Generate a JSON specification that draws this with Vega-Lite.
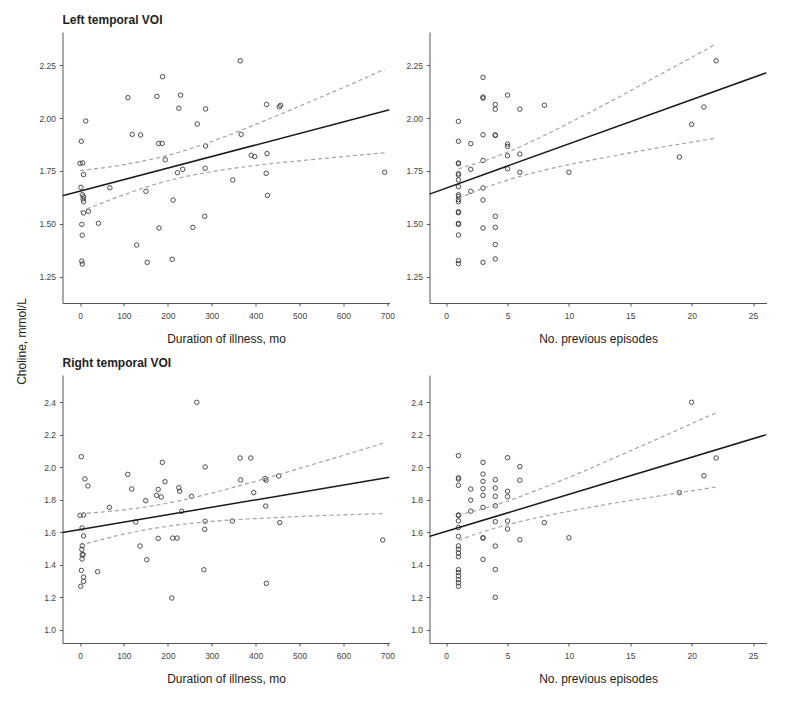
{
  "$schema": "https://vega.github.io/schema/vega-lite/v6.json",
  "background": "white",
  "padding": {"left": 14.5, "top": 14, "right": 4, "bottom": 4},
  "autosize": {"type": "pad"},
  "columns": 2,
  "bounds": "flush",
  "spacing": {"row": 72, "column": 40},
  "config": {
    "view": {"stroke": null},
    "group": {"stroke": "#9a9a9a", "strokeWidth": 1},
    "axis": {"domainColor": "#555", "tickColor": "#555", "labelColor": "#444", "titleColor": "#222", "labelFont": "Liberation Sans", "titleFont": "Liberation Sans", "labelFontSize": 8.5, "titleFontSize": 12, "titleFontWeight": "normal", "tickSize": 3, "labelPadding": 4, "grid": false, "domainWidth": 1, "tickWidth": 1},
    "axisX": {"titlePadding": 14, "labelPadding": 5},
    "title": {"font": "Liberation Sans", "fontSize": 12, "fontWeight": "bold", "color": "#222", "anchor": "start", "frame": "group", "offset": 5, "baseline": "alphabetic"}
  },
  "datasets": {
    "tl": [
      {"x":365,"y":2.27},{"x":188,"y":2.195},{"x":109,"y":2.096},{"x":175,"y":2.102},{"x":229,"y":2.108},{"x":225,"y":2.046},{"x":286,"y":2.043},{"x":425,"y":2.064},{"x":454,"y":2.053},{"x":457,"y":2.06},
      {"x":13,"y":1.986},{"x":267,"y":1.972},{"x":3,"y":1.89},{"x":119,"y":1.923},{"x":138,"y":1.92},{"x":367,"y":1.923},{"x":179,"y":1.88},{"x":187,"y":1.88},{"x":286,"y":1.868},{"x":194,"y":1.803},
      {"x":390,"y":1.824},{"x":398,"y":1.818},{"x":426,"y":1.832},{"x":0,"y":1.786},{"x":6,"y":1.788},{"x":8,"y":1.733},{"x":222,"y":1.742},{"x":234,"y":1.758},{"x":285,"y":1.763},{"x":424,"y":1.739},
      {"x":694,"y":1.744},{"x":348,"y":1.708},{"x":2,"y":1.673},{"x":68,"y":1.671},{"x":5,"y":1.638},{"x":8,"y":1.629},{"x":7,"y":1.618},{"x":8,"y":1.605},{"x":150,"y":1.654},{"x":427,"y":1.635},
      {"x":212,"y":1.613},{"x":8,"y":1.552},{"x":19,"y":1.56},{"x":284,"y":1.536},{"x":4,"y":1.498},{"x":42,"y":1.503},{"x":180,"y":1.481},{"x":257,"y":1.484},{"x":5,"y":1.447},{"x":129,"y":1.401},
      {"x":4,"y":1.325},{"x":5,"y":1.311},{"x":153,"y":1.319},{"x":210,"y":1.333}
    ],
    "tr": [
      {"x":3,"y":2.192},{"x":3,"y":2.099},{"x":3,"y":2.094},{"x":5,"y":2.108},{"x":4,"y":2.064},{"x":4,"y":2.042},{"x":6,"y":2.042},{"x":8,"y":2.06},{"x":22,"y":2.27},{"x":21,"y":2.052},
      {"x":20,"y":1.97},{"x":1,"y":1.984},{"x":3,"y":1.921},{"x":4,"y":1.92},{"x":4,"y":1.918},{"x":1,"y":1.89},{"x":2,"y":1.879},{"x":5,"y":1.877},{"x":5,"y":1.866},{"x":5,"y":1.822},
      {"x":6,"y":1.83},{"x":3,"y":1.8},{"x":19,"y":1.816},{"x":1,"y":1.788},{"x":1,"y":1.784},{"x":1,"y":1.737},{"x":1,"y":1.731},{"x":2,"y":1.758},{"x":5,"y":1.761},{"x":6,"y":1.744},
      {"x":10,"y":1.744},{"x":1,"y":1.708},{"x":1,"y":1.676},{"x":3,"y":1.67},{"x":1,"y":1.638},{"x":1,"y":1.63},{"x":1,"y":1.615},{"x":1,"y":1.605},{"x":2,"y":1.654},{"x":3,"y":1.613},
      {"x":1,"y":1.558},{"x":1,"y":1.553},{"x":4,"y":1.536},{"x":1,"y":1.503},{"x":1,"y":1.498},{"x":3,"y":1.481},{"x":4,"y":1.484},{"x":1,"y":1.448},{"x":4,"y":1.403},{"x":1,"y":1.327},
      {"x":1,"y":1.313},{"x":3,"y":1.319},{"x":4,"y":1.335}
    ],
    "bl": [
      {"x":266,"y":2.4},{"x":3,"y":2.065},{"x":187.5,"y":2.03},{"x":364.5,"y":2.057},{"x":389,"y":2.057},{"x":285,"y":2.002},{"x":108.6,"y":1.956},{"x":11,"y":1.928},{"x":18,"y":1.885},{"x":193.6,"y":1.911},
      {"x":366,"y":1.922},{"x":117.7,"y":1.866},{"x":178,"y":1.864},{"x":225,"y":1.874},{"x":227,"y":1.852},{"x":174.6,"y":1.827},{"x":185,"y":1.817},{"x":254,"y":1.821},{"x":421,"y":1.93},{"x":424,"y":1.92},
      {"x":452.5,"y":1.946},{"x":395.6,"y":1.844},{"x":149.6,"y":1.794},{"x":66.8,"y":1.753},{"x":423,"y":1.761},{"x":231.6,"y":1.729},{"x":0,"y":1.704},{"x":8,"y":1.706},{"x":127,"y":1.663},{"x":285,"y":1.667},
      {"x":347,"y":1.669},{"x":455,"y":1.659},{"x":4.6,"y":1.626},{"x":284,"y":1.618},{"x":8,"y":1.577},{"x":178,"y":1.562},{"x":211,"y":1.564},{"x":221,"y":1.564},{"x":5,"y":1.517},{"x":4,"y":1.494},
      {"x":5,"y":1.462},{"x":7,"y":1.462},{"x":4.5,"y":1.435},{"x":136.7,"y":1.515},{"x":152,"y":1.431},{"x":3,"y":1.365},{"x":40,"y":1.357},{"x":282,"y":1.369},{"x":8,"y":1.324},{"x":8,"y":1.297},
      {"x":1.5,"y":1.267},{"x":424.5,"y":1.285},{"x":209,"y":1.195},{"x":689.5,"y":1.552}
    ],
    "br": [
      {"x":1,"y":2.072},{"x":1,"y":1.935},{"x":1,"y":1.927},{"x":1,"y":1.889},{"x":1,"y":1.706},{"x":1,"y":1.704},{"x":1,"y":1.67},{"x":1,"y":1.629},{"x":1,"y":1.575},{"x":1,"y":1.516},
      {"x":1,"y":1.495},{"x":1,"y":1.472},{"x":1,"y":1.449},{"x":1,"y":1.37},{"x":1,"y":1.352},{"x":1,"y":1.331},{"x":1,"y":1.308},{"x":1,"y":1.289},{"x":1,"y":1.267},
      {"x":2,"y":1.866},{"x":2,"y":1.797},{"x":2,"y":1.73},
      {"x":3,"y":2.03},{"x":3,"y":1.958},{"x":3,"y":1.913},{"x":3,"y":1.868},{"x":3,"y":1.827},{"x":3,"y":1.753},{"x":3,"y":1.566},{"x":3,"y":1.564},{"x":3,"y":1.433},
      {"x":4,"y":1.924},{"x":4,"y":1.872},{"x":4,"y":1.821},{"x":4,"y":1.763},{"x":4,"y":1.665},{"x":4,"y":1.515},{"x":4,"y":1.371},{"x":4,"y":1.199},
      {"x":5,"y":2.059},{"x":5,"y":1.852},{"x":5,"y":1.819},{"x":5,"y":1.669},{"x":5,"y":1.62},
      {"x":6,"y":2.004},{"x":6,"y":1.92},{"x":6,"y":1.554},
      {"x":8,"y":1.659},{"x":10,"y":1.566},{"x":19,"y":1.844},{"x":20,"y":2.4},{"x":21,"y":1.948},{"x":22,"y":2.057}
    ],
    "lines": [
      {"p":"tl","k":"fit","x":-40,"y":1.633},{"p":"tl","k":"fit","x":705,"y":2.039},
      {"p":"tl","k":"up","x":0,"y":1.752},{"p":"tl","k":"up","x":100,"y":1.78},{"p":"tl","k":"up","x":200,"y":1.824},{"p":"tl","k":"up","x":300,"y":1.889},{"p":"tl","k":"up","x":400,"y":1.97},{"p":"tl","k":"up","x":500,"y":2.056},{"p":"tl","k":"up","x":600,"y":2.144},{"p":"tl","k":"up","x":694,"y":2.23},
      {"p":"tl","k":"lo","x":0,"y":1.558},{"p":"tl","k":"lo","x":100,"y":1.638},{"p":"tl","k":"lo","x":200,"y":1.704},{"p":"tl","k":"lo","x":300,"y":1.747},{"p":"tl","k":"lo","x":400,"y":1.776},{"p":"tl","k":"lo","x":500,"y":1.798},{"p":"tl","k":"lo","x":600,"y":1.818},{"p":"tl","k":"lo","x":694,"y":1.836},
      {"p":"tr","k":"fit","x":-1.36,"y":1.641},{"p":"tr","k":"fit","x":26.1,"y":2.214},
      {"p":"tr","k":"up","x":1,"y":1.76},{"p":"tr","k":"up","x":3,"y":1.796},{"p":"tr","k":"up","x":5,"y":1.839},{"p":"tr","k":"up","x":8,"y":1.918},{"p":"tr","k":"up","x":11,"y":2.006},{"p":"tr","k":"up","x":14,"y":2.097},{"p":"tr","k":"up","x":17,"y":2.192},{"p":"tr","k":"up","x":20,"y":2.286},{"p":"tr","k":"up","x":22,"y":2.35},
      {"p":"tr","k":"lo","x":1,"y":1.62},{"p":"tr","k":"lo","x":3,"y":1.668},{"p":"tr","k":"lo","x":5,"y":1.707},{"p":"tr","k":"lo","x":8,"y":1.754},{"p":"tr","k":"lo","x":11,"y":1.792},{"p":"tr","k":"lo","x":14,"y":1.825},{"p":"tr","k":"lo","x":17,"y":1.857},{"p":"tr","k":"lo","x":20,"y":1.886},{"p":"tr","k":"lo","x":22,"y":1.906},
      {"p":"bl","k":"fit","x":-40,"y":1.599},{"p":"bl","k":"fit","x":705,"y":1.938},
      {"p":"bl","k":"up","x":0,"y":1.714},{"p":"bl","k":"up","x":100,"y":1.738},{"p":"bl","k":"up","x":200,"y":1.779},{"p":"bl","k":"up","x":300,"y":1.841},{"p":"bl","k":"up","x":400,"y":1.914},{"p":"bl","k":"up","x":500,"y":1.993},{"p":"bl","k":"up","x":600,"y":2.073},{"p":"bl","k":"up","x":694,"y":2.151},
      {"p":"bl","k":"lo","x":0,"y":1.52},{"p":"bl","k":"lo","x":100,"y":1.588},{"p":"bl","k":"lo","x":200,"y":1.637},{"p":"bl","k":"lo","x":300,"y":1.667},{"p":"bl","k":"lo","x":400,"y":1.684},{"p":"bl","k":"lo","x":500,"y":1.697},{"p":"bl","k":"lo","x":600,"y":1.707},{"p":"bl","k":"lo","x":694,"y":1.715},
      {"p":"br","k":"fit","x":-1.4,"y":1.573},{"p":"br","k":"fit","x":26.1,"y":2.201},
      {"p":"br","k":"up","x":1,"y":1.705},{"p":"br","k":"up","x":3,"y":1.745},{"p":"br","k":"up","x":5,"y":1.792},{"p":"br","k":"up","x":8,"y":1.877},{"p":"br","k":"up","x":11,"y":1.969},{"p":"br","k":"up","x":14,"y":2.068},{"p":"br","k":"up","x":17,"y":2.167},{"p":"br","k":"up","x":20,"y":2.269},{"p":"br","k":"up","x":22,"y":2.336},
      {"p":"br","k":"lo","x":1,"y":1.551},{"p":"br","k":"lo","x":3,"y":1.603},{"p":"br","k":"lo","x":5,"y":1.646},{"p":"br","k":"lo","x":8,"y":1.699},{"p":"br","k":"lo","x":11,"y":1.743},{"p":"br","k":"lo","x":14,"y":1.783},{"p":"br","k":"lo","x":17,"y":1.819},{"p":"br","k":"lo","x":20,"y":1.855},{"p":"br","k":"lo","x":22,"y":1.878}
    ]
  },
  "concat": [
    {
      "width": 327, "height": 271,
      "title": {"text": "Left temporal VOI"},
      "encoding": {
        "x": {"field": "x", "type": "quantitative", "scale": {"domain": [-40, 705], "nice": false, "zero": false}, "axis": {"values": [0,100,200,300,400,500,600,700], "title": "Duration of illness, mo"}},
        "y": {"field": "y", "type": "quantitative", "scale": {"domain": [1.127, 2.406], "nice": false, "zero": false}, "axis": {"values": [1.25,1.5,1.75,2,2.25], "format": ".2f", "title": "Choline, mmol/L", "titleX": -34.5, "titleY": 309}}
      },
      "layer": [
        {"data": {"name": "tl"}, "mark": {"type": "point", "shape": "circle", "filled": false, "size": 20, "stroke": "#3a3a3a", "strokeWidth": 0.9, "opacity": 1}},
        {"data": {"name": "lines"}, "transform": [{"filter": "datum.p == 'tl' && datum.k == 'fit'"}], "mark": {"type": "line", "color": "#1a1a1a", "strokeWidth": 1.5, "clip": true}},
        {"data": {"name": "lines"}, "transform": [{"filter": "datum.p == 'tl' && datum.k != 'fit'"}], "mark": {"type": "line", "color": "#a3a3a3", "strokeWidth": 1.2, "strokeDash": [4, 3], "interpolate": "monotone"}, "encoding": {"detail": {"field": "k"}}}
      ]
    },
    {
      "width": 337, "height": 271,
      "encoding": {
        "x": {"field": "x", "type": "quantitative", "scale": {"domain": [-1.36, 26.1], "nice": false, "zero": false}, "axis": {"values": [0,5,10,15,20,25], "title": "No. previous episodes"}},
        "y": {"field": "y", "type": "quantitative", "scale": {"domain": [1.127, 2.406], "nice": false, "zero": false}, "axis": {"values": [1.25,1.5,1.75,2,2.25], "format": ".2f", "title": null}}
      },
      "layer": [
        {"data": {"name": "tr"}, "mark": {"type": "point", "shape": "circle", "filled": false, "size": 20, "stroke": "#3a3a3a", "strokeWidth": 0.9, "opacity": 1}},
        {"data": {"name": "lines"}, "transform": [{"filter": "datum.p == 'tr' && datum.k == 'fit'"}], "mark": {"type": "line", "color": "#1a1a1a", "strokeWidth": 1.5, "clip": true}},
        {"data": {"name": "lines"}, "transform": [{"filter": "datum.p == 'tr' && datum.k != 'fit'"}], "mark": {"type": "line", "color": "#a3a3a3", "strokeWidth": 1.2, "strokeDash": [4, 3], "interpolate": "monotone"}, "encoding": {"detail": {"field": "k"}}}
      ]
    },
    {
      "width": 327, "height": 268,
      "title": {"text": "Right temporal VOI"},
      "encoding": {
        "x": {"field": "x", "type": "quantitative", "scale": {"domain": [-40, 705], "nice": false, "zero": false}, "axis": {"values": [0,100,200,300,400,500,600,700], "title": "Duration of illness, mo"}},
        "y": {"field": "y", "type": "quantitative", "scale": {"domain": [0.918, 2.568], "nice": false, "zero": false}, "axis": {"values": [1.0,1.2,1.4,1.6,1.8,2.0,2.2,2.4], "format": ".1f", "title": null}}
      },
      "layer": [
        {"data": {"name": "bl"}, "mark": {"type": "point", "shape": "circle", "filled": false, "size": 20, "stroke": "#3a3a3a", "strokeWidth": 0.9, "opacity": 1}},
        {"data": {"name": "lines"}, "transform": [{"filter": "datum.p == 'bl' && datum.k == 'fit'"}], "mark": {"type": "line", "color": "#1a1a1a", "strokeWidth": 1.5, "clip": true}},
        {"data": {"name": "lines"}, "transform": [{"filter": "datum.p == 'bl' && datum.k != 'fit'"}], "mark": {"type": "line", "color": "#a3a3a3", "strokeWidth": 1.2, "strokeDash": [4, 3], "interpolate": "monotone"}, "encoding": {"detail": {"field": "k"}}}
      ]
    },
    {
      "width": 337, "height": 268,
      "encoding": {
        "x": {"field": "x", "type": "quantitative", "scale": {"domain": [-1.36, 26.1], "nice": false, "zero": false}, "axis": {"values": [0,5,10,15,20,25], "title": "No. previous episodes"}},
        "y": {"field": "y", "type": "quantitative", "scale": {"domain": [0.918, 2.568], "nice": false, "zero": false}, "axis": {"values": [1.0,1.2,1.4,1.6,1.8,2.0,2.2,2.4], "format": ".1f", "title": null}}
      },
      "layer": [
        {"data": {"name": "br"}, "mark": {"type": "point", "shape": "circle", "filled": false, "size": 20, "stroke": "#3a3a3a", "strokeWidth": 0.9, "opacity": 1}},
        {"data": {"name": "lines"}, "transform": [{"filter": "datum.p == 'br' && datum.k == 'fit'"}], "mark": {"type": "line", "color": "#1a1a1a", "strokeWidth": 1.5, "clip": true}},
        {"data": {"name": "lines"}, "transform": [{"filter": "datum.p == 'br' && datum.k != 'fit'"}], "mark": {"type": "line", "color": "#a3a3a3", "strokeWidth": 1.2, "strokeDash": [4, 3], "interpolate": "monotone"}, "encoding": {"detail": {"field": "k"}}}
      ]
    }
  ]
}
